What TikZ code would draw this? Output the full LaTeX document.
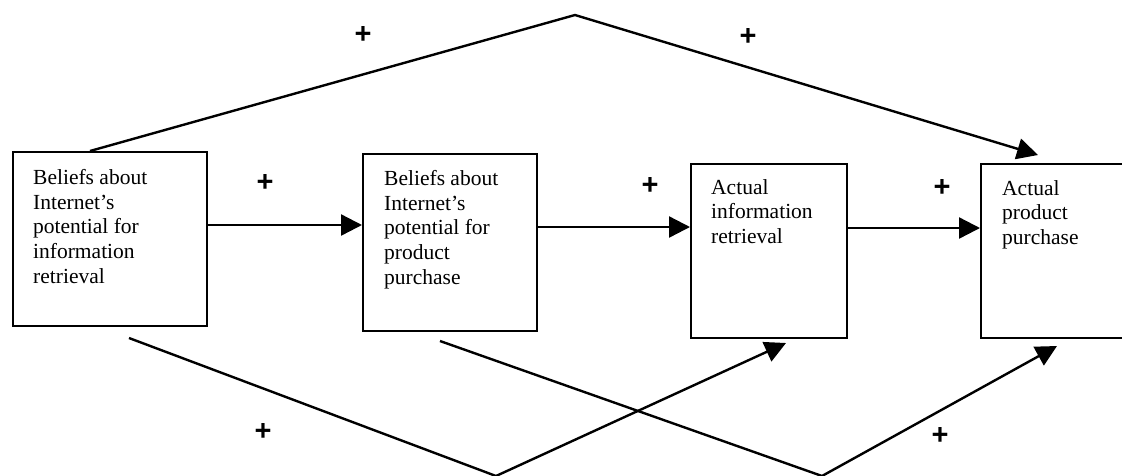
\documentclass[tikz,border=0pt]{standalone}
\usepackage{fontspec}
\setmainfont{Liberation Serif}
\newfontfamily\plusfont{Liberation Sans}
\usetikzlibrary{arrows.meta,calc}
\begin{document}
\begin{tikzpicture}[x=1pt,y=-1pt,
  box/.style={draw, line width=2pt, rectangle, inner sep=0pt, anchor=north west},
  txt/.style={anchor=north west, inner sep=0pt, align=left, font=\fontsize{21.5}{24.8}\selectfont},
  conn/.style={line width=2.4pt, line join=miter},
  arr/.style={conn, -{Triangle[length=21pt,width=21pt]}},
  plus/.style={inner sep=0pt, font=\plusfont\bfseries\fontsize{29}{29}\selectfont}]
\useasboundingbox (0,0) rectangle (1122,475);
\clip (0,0) rectangle (1122,475);
% boxes
\node[box, minimum width=194pt, minimum height=174pt] (b1) at (12,151) {};
\node[box, minimum width=174pt, minimum height=177pt] (b2) at (362,153) {};
\node[box, minimum width=156pt, minimum height=174pt] (b3) at (690,163) {};
\node[box, minimum width=160pt, minimum height=174pt] (b4) at (980,163) {};
% texts
\node[txt] (t1) at (33,169) {Beliefs about\\Internet’s\\potential for\\information\\retrieval};
\node[txt] (t2) at (384,170) {Beliefs about\\Internet’s\\potential for\\product\\purchase};
\node[txt] (t3) at (711,179) {Actual\\information\\retrieval};
\node[txt] (t4) at (1002,180) {Actual\\product\\purchase};
% horizontal arrows
\draw[arr] (b1.east |- 0,225) -- (b2.west |- 0,225);
\draw[arr] (b2.east |- 0,227) -- (b3.west |- 0,227);
\draw[arr] (b3.east |- 0,228) -- (b4.west |- 0,228);
% top connector
\coordinate (tstart) at (90,151);
\coordinate (tpeak) at (575,15);
\coordinate (tend) at (1038,155);
\draw[arr] (tstart) -- (tpeak) -- (tend);
% bottom connectors
\coordinate (s1) at (129,338);
\coordinate (v1) at (496,476);
\coordinate (e1) at (786,343);
\draw[arr] (s1) -- (v1) -- (e1);
\coordinate (s2) at (440,341);
\coordinate (v2) at (822,476);
\coordinate (e2) at (1057,346);
\draw[arr] (s2) -- (v2) -- (e2);
% plus signs
\node[plus] (p1) at (265,183) {+};
\node[plus] (p2) at (650,186) {+};
\node[plus] (p3) at (942,188) {+};
\node[plus] (p4) at (363,35) {+};
\node[plus] (p5) at (748,37) {+};
\node[plus] (p6) at (263,432) {+};
\node[plus] (p7) at (940,436) {+};
\end{tikzpicture}
\end{document}
